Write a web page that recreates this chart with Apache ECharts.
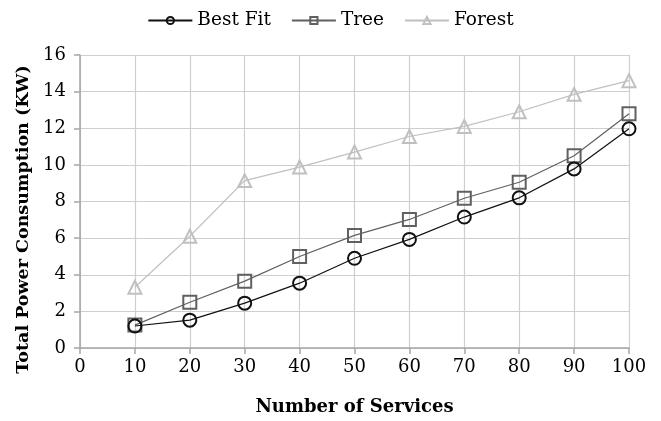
<!DOCTYPE html>
<html><head><meta charset="utf-8">
<script src="https://cdn.jsdelivr.net/npm/echarts@6/dist/echarts.min.js"></script>
<style>html,body{margin:0;padding:0;background:#fff}#c{width:661px;height:421px}</style>
</head><body><div id="c"></div>
<script>
const services = [10, 20, 30, 40, 50, 60, 70, 80, 90, 100];
const bestFit = [1.2, 1.52, 2.45, 3.54, 4.9, 5.93, 7.15, 8.2, 9.78, 11.97];
const tree = [1.25, 2.5, 3.65, 5.0, 6.15, 7.02, 8.18, 9.05, 10.5, 12.79];
const forest = [3.32, 6.1, 9.14, 9.88, 10.7, 11.55, 12.1, 12.9, 13.85, 14.6];
const xTicks = [0, 10, 20, 30, 40, 50, 60, 70, 80, 90, 100];
const yTicks = [0, 2, 4, 6, 8, 10, 12, 14, 16];

const font = 'DejaVu Serif';
function mk(name, vals, symbol, color, lw) {
  return {
    name, type: 'line', symbol, symbolSize: 13,
    data: services.map((s, i) => [s, vals[i]]),
    lineStyle: { color, width: lw },
    itemStyle: { color: 'rgba(255,255,255,0)', borderColor: color, borderWidth: 2 },
    emphasis: { disabled: true }
  };
}
const chart = echarts.init(document.getElementById('c'));
chart.setOption({
  animation: false,
  textStyle: { fontFamily: font },
  legend: {
    top: 6, left: 'center', itemWidth: 44, itemHeight: 9, itemGap: 20,
    textStyle: { fontFamily: font, fontSize: 18.5, color: '#000' },
    data: ['Best Fit', 'Tree', 'Forest']
  },
  grid: { left: 80, right: 32, top: 55, bottom: 72 },
  xAxis: {
    type: 'value', min: 0, max: 100, interval: 10,
    name: 'Number of Services', nameLocation: 'middle', nameGap: 50,
    nameTextStyle: { fontFamily: font, fontSize: 18, fontWeight: 'bold', color: '#000' },
    axisLine: { show: true, lineStyle: { color: '#a6a6a6', width: 1.5 } },
    axisTick: { show: true, length: 6, lineStyle: { color: '#a6a6a6', width: 1.5 } },
    axisLabel: { fontFamily: font, fontSize: 18, color: '#000', margin: 10,
      formatter: v => xTicks.includes(v) ? String(v) : '' },
    splitLine: { show: true, lineStyle: { color: '#cfcfcf', width: 1.2 } }
  },
  yAxis: {
    type: 'value', min: 0, max: 16, interval: 2,
    name: 'Total Power Consumption (KW)', nameLocation: 'middle', nameGap: 40,
    nameTextStyle: { fontFamily: font, fontSize: 17.5, fontWeight: 'bold', color: '#000',
      padding: [0, 36, 0, 0] },
    axisLine: { show: true, lineStyle: { color: '#a6a6a6', width: 1.5 } },
    axisTick: { show: true, length: 6, lineStyle: { color: '#a6a6a6', width: 1.5 } },
    axisLabel: { fontFamily: font, fontSize: 18, color: '#000', margin: 14,
      formatter: v => yTicks.includes(v) ? String(v) : '' },
    splitLine: { show: true, lineStyle: { color: '#cfcfcf', width: 1.2 } }
  },
  series: [
    mk('Forest', forest, 'triangle', '#c0c0c0', 1.2),
    mk('Tree', tree, 'rect', '#606060', 1.2),
    mk('Best Fit', bestFit, 'circle', '#111111', 1.2)
  ]
});
</script></body></html>
